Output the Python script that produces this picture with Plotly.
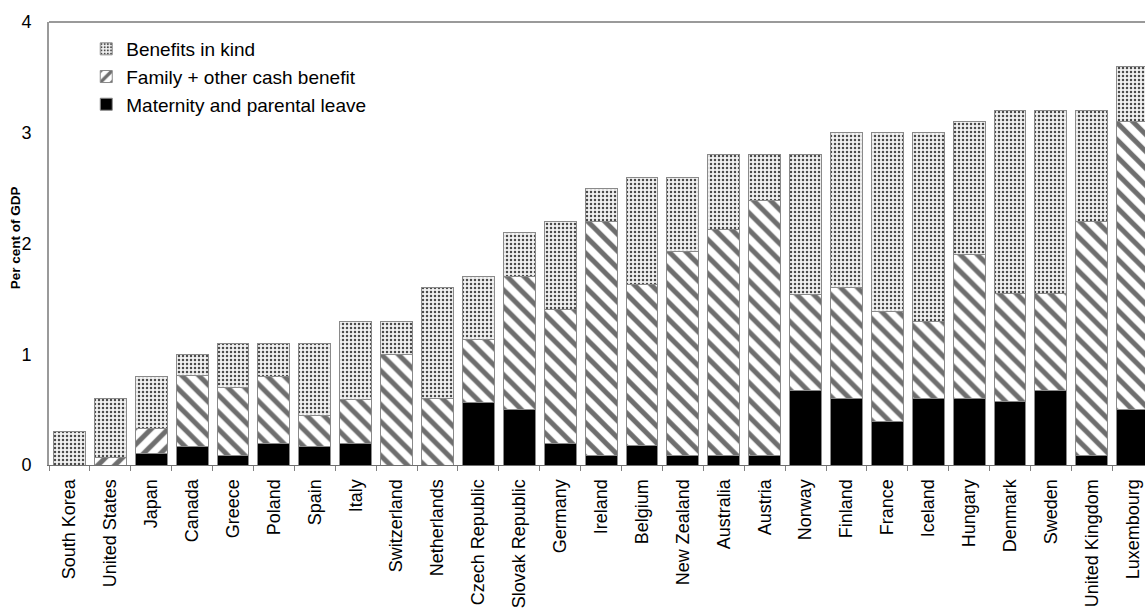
import plotly.graph_objects as go

# Public spending on family benefits, per cent of GDP
countries = [
    "South Korea", "United States", "Japan", "Canada", "Greece", "Poland",
    "Spain", "Italy", "Switzerland", "Netherlands", "Czech Republic",
    "Slovak Republic", "Germany", "Ireland", "Belgium", "New Zealand",
    "Australia", "Austria", "Norway", "Finland", "France", "Iceland",
    "Hungary", "Denmark", "Sweden", "United Kingdom", "Luxembourg",
]
maternity_leave = [
    0.00, 0.00, 0.10, 0.17, 0.09, 0.19, 0.17, 0.19, 0.00, 0.00, 0.56,
    0.50, 0.19, 0.09, 0.18, 0.09, 0.09, 0.09, 0.67, 0.60, 0.39, 0.60,
    0.60, 0.57, 0.67, 0.09, 0.50,
]
cash_benefit = [
    0.00, 0.07, 0.23, 0.64, 0.61, 0.61, 0.28, 0.40, 1.00, 0.60, 0.57,
    1.20, 1.21, 2.11, 1.45, 1.84, 2.04, 2.30, 0.87, 1.00, 1.00, 0.70,
    1.30, 0.98, 0.88, 2.11, 2.60,
]
benefits_in_kind = [
    0.30, 0.53, 0.47, 0.19, 0.40, 0.30, 0.65, 0.71, 0.30, 1.00, 0.57,
    0.40, 0.80, 0.30, 0.97, 0.67, 0.67, 0.41, 1.26, 1.40, 1.61, 1.70,
    1.20, 1.65, 1.65, 1.00, 0.50,
]
y_ticks = [0, 1, 2, 3, 4]

FONT = "Liberation Sans, Arial, sans-serif"
OUTLINE = dict(color="#8a8a8a", width=1)

# the first bars carry forward hatching, the rest backward hatching
cash_shapes = ["/" if i < 3 else "\\" for i in range(len(countries))]

fig = go.Figure()
fig.add_trace(go.Bar(
    name="Maternity and parental leave", x=countries, y=maternity_leave,
    marker=dict(color="#000000", line=OUTLINE),
))
fig.add_trace(go.Bar(
    name="Family + other cash benefit", x=countries, y=cash_benefit,
    marker=dict(
        color="#ffffff", line=OUTLINE,
        pattern=dict(shape=cash_shapes, fgcolor="#6e6e6e", bgcolor="#ffffff",
                     size=12, solidity=0.42, fillmode="replace"),
    ),
))
fig.add_trace(go.Bar(
    name="Benefits in kind", x=countries, y=benefits_in_kind,
    marker=dict(
        color="#ffffff", line=OUTLINE,
        pattern=dict(shape=".", fgcolor="#4a4a4a", bgcolor="#f2f2f2",
                     size=4, solidity=0.3, fillmode="replace"),
    ),
))

fig.update_layout(
    width=1145, height=608,
    barmode="stack", bargap=0.22,
    plot_bgcolor="#ffffff", paper_bgcolor="#ffffff",
    margin=dict(l=49, r=0, t=22, b=143, autoexpand=False),
    font=dict(family=FONT, size=18, color="#000000"),
    showlegend=True,
    legend=dict(
        x=0.034, y=0.982, xanchor="left", yanchor="top",
        traceorder="reversed", font=dict(family=FONT, size=19),
        bgcolor="rgba(0,0,0,0)", tracegroupgap=0,
    ),
    xaxis=dict(
        range=[-0.5, 26.3], tickangle=-90, tickson="boundaries",
        ticks="outside", ticklen=5, tickcolor="#808080",
        showline=True, linecolor="#707070", linewidth=1,
        showgrid=False, tickfont=dict(family=FONT, size=18),
        ticklabelstandoff=6,
    ),
    yaxis=dict(
        range=[0, 4], tickvals=y_ticks, ticks="", showgrid=False,
        showline=True, linecolor="#9a9a9a", linewidth=2, zeroline=False,
        tickfont=dict(family=FONT, size=18), ticklabelstandoff=12,
    ),
    annotations=[dict(
        text="<b>Per cent of GDP</b>", textangle=-90,
        xref="paper", yref="paper", x=-0.031, y=0.512,
        xanchor="center", yanchor="middle", showarrow=False,
        font=dict(family=FONT, size=13.5),
    )],
    shapes=[dict(type="line", xref="paper", yref="paper", x0=0, x1=1,
                 y0=1, y1=1, line=dict(color="#9a9a9a", width=2))],
)

fig.write_html("out.html")
